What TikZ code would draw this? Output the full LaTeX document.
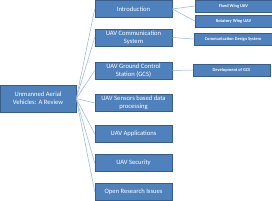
\documentclass[tikz,border=0pt]{standalone}
\usepackage{fontspec}
\setmainfont{Carlito}
\usetikzlibrary{positioning}
\definecolor{boxfill}{HTML}{4F81BD}
\definecolor{boxline}{HTML}{385D8A}
\definecolor{link}{HTML}{95B3D7}

\begin{document}
\begin{tikzpicture}[
  x=1pt, y=-1pt,
  mod/.style={draw=boxline, line width=0.5pt, fill=boxfill, text=white, inner sep=0pt,
              minimum width=77pt, minimum height=17pt, align=center,
              font=\fontsize{6.6}{7.8}\selectfont},
  sub/.style={mod, minimum height=12pt, font=\bfseries\fontsize{4.4}{5}\selectfont},
  arr/.style={draw=link, line width=0.5pt}
]
  \useasboundingbox (0,0) rectangle (272,200);

  \node[mod, minimum width=76pt, minimum height=27pt] (root) at (38,98.5) {Unmanned Aerial\\Vehicles: A Review};

  \node[mod] (intro) at (133.5,9) {Introduction};
  \node[mod] (comm) at (133.5,37.5) {UAV Communication\\System};
  \node[mod] (gcs) at (133.5,70.5) {UAV Ground Control\\Station (GCS)};
  \node[mod] (sens) at (133.5,103) {UAV Sensors based data\\processing};
  \node[mod] (apps) at (133.5,134) {UAV Applications};
  \node[mod] (sec) at (133.5,163) {UAV Security};
  \node[mod] (open) at (133.5,191.5) {Open Research Issues};

  \node[sub] (fixed) at (233.5,6) {Fixed Wing UAV};
  \node[sub] (rot) at (233.5,21) {Rotatory Wing UAV};
  \node[sub, minimum width=78pt] (cds) at (233,39) {Communication Design System};
  \node[sub] (dgcs) at (231.5,70) {Development of GCS};

  \foreach \m in {intro, comm, gcs, sens, apps, sec, open}
    \draw[arr] (root.east) -- (\m.west);

  \draw[arr] (intro.east) -- (fixed.west);
  \draw[arr] (intro.east) -- (rot.west);
  \draw[arr] (comm.east) -- (cds.west);
  \draw[arr] (gcs.east) -- (dgcs.west);
\end{tikzpicture}
\end{document}
